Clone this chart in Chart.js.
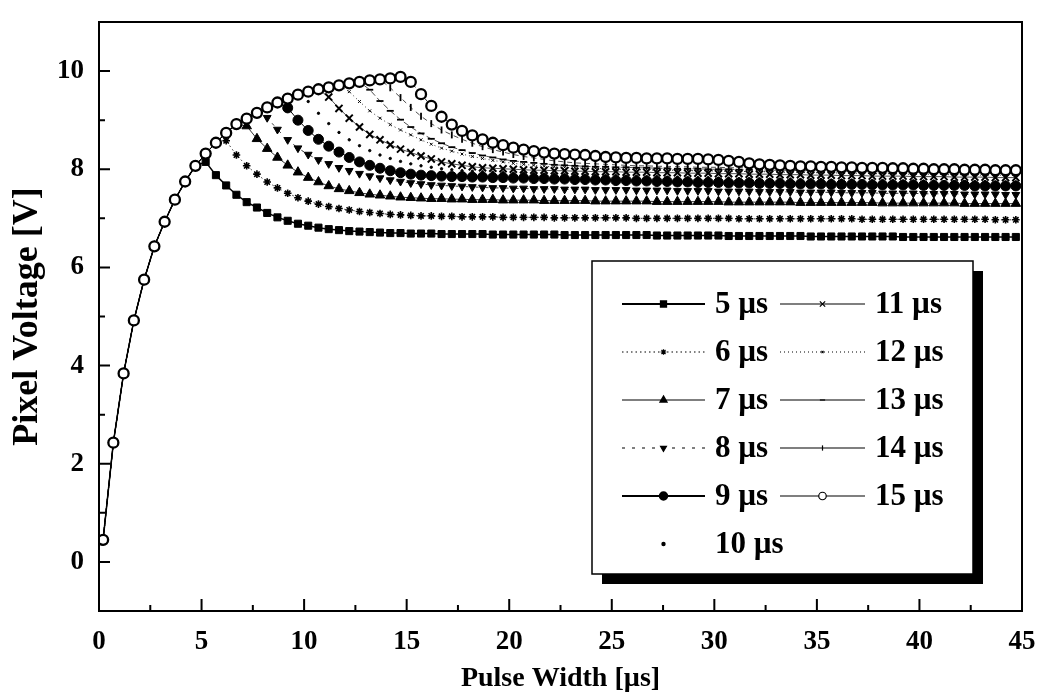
<!DOCTYPE html>
<html>
<head>
<meta charset="utf-8">
<title>Pixel Voltage vs Pulse Width</title>
<script src="https://cdn.jsdelivr.net/npm/chart.js@4.4.1/dist/chart.umd.min.js"></script>
<style>
  html, body { margin: 0; padding: 0; background: #fff; }
  #chart { display: block; }
</style>
</head>
<body>
<canvas id="chart" width="1048" height="696"></canvas>
<script>
// --------------------- DATA ------------------------
// sample times [µs]
const t = [
  0.2, 0.7, 1.2, 1.7, 2.2, 2.7, 3.2, 3.7, 4.2, 4.7,
  5.2, 5.7, 6.2, 6.7, 7.2, 7.7, 8.2, 8.7, 9.2, 9.7,
  10.2, 10.7, 11.2, 11.7, 12.2, 12.7, 13.2, 13.7, 14.2, 14.7,
  15.2, 15.7, 16.2, 16.7, 17.2, 17.7, 18.2, 18.7, 19.2, 19.7,
  20.2, 20.7, 21.2, 21.7, 22.2, 22.7, 23.2, 23.7, 24.2, 24.7,
  25.2, 25.7, 26.2, 26.7, 27.2, 27.7, 28.2, 28.7, 29.2, 29.7,
  30.2, 30.7, 31.2, 31.7, 32.2, 32.7, 33.2, 33.7, 34.2, 34.7,
  35.2, 35.7, 36.2, 36.7, 37.2, 37.7, 38.2, 38.7, 39.2, 39.7,
  40.2, 40.7, 41.2, 41.7, 42.2, 42.7, 43.2, 43.7, 44.2, 44.7
];

// common charging curve while the pulse is on [V]
const rise = [
  0.45, 2.43, 3.84, 4.92, 5.75, 6.43, 6.93, 7.38, 7.75, 8.07,
  8.32, 8.54, 8.74, 8.92, 9.03, 9.15, 9.26, 9.36, 9.44, 9.52,
  9.58, 9.63, 9.67, 9.71, 9.75, 9.78, 9.81, 9.83, 9.85, 9.88
];

// voltage after the pulse ends, one list per pulse width (last samples of t)
const after5 = [
  8.15, 7.88, 7.67, 7.48, 7.33, 7.22, 7.11, 7.02, 6.95, 6.89,
  6.85, 6.81, 6.78, 6.76, 6.74, 6.73, 6.72, 6.71, 6.70, 6.70,
  6.69, 6.69, 6.69, 6.68, 6.68, 6.68, 6.68, 6.68, 6.67, 6.67,
  6.67, 6.67, 6.67, 6.67, 6.67, 6.66, 6.66, 6.66, 6.66, 6.66,
  6.66, 6.66, 6.66, 6.66, 6.65, 6.65, 6.65, 6.65, 6.65, 6.65,
  6.65, 6.64, 6.64, 6.64, 6.64, 6.64, 6.64, 6.64, 6.64, 6.63,
  6.63, 6.63, 6.63, 6.63, 6.63, 6.63, 6.63, 6.63, 6.62, 6.62,
  6.62, 6.62, 6.62, 6.62, 6.62, 6.62, 6.62, 6.62, 6.62, 6.62
];
const after6 = [
  8.58, 8.29, 8.07, 7.90, 7.74, 7.62, 7.51, 7.42, 7.35, 7.29,
  7.24, 7.20, 7.17, 7.14, 7.12, 7.10, 7.08, 7.07,
  7.06, 7.05, 7.05, 7.04, 7.04, 7.03, 7.03, 7.03, 7.03, 7.02,
  7.02, 7.02, 7.02, 7.02, 7.01, 7.01, 7.01, 7.01, 7.01, 7.01,
  7.01, 7.01, 7.00, 7.00, 7.00, 7.00, 7.00, 7.00, 7.00, 7.00,
  7.00, 7.00, 6.99, 6.99, 6.99, 6.99, 6.99, 6.99, 6.99, 6.99,
  6.99, 6.99, 6.99, 6.99, 6.98, 6.98, 6.98, 6.98, 6.98, 6.98,
  6.98, 6.98, 6.98, 6.98, 6.98, 6.98, 6.98, 6.97, 6.97, 6.97
];
const after7 = [
  8.88, 8.62, 8.42, 8.24, 8.08, 7.94, 7.83, 7.74, 7.66, 7.60,
  7.56, 7.52, 7.49, 7.47, 7.45, 7.43,
  7.42, 7.41, 7.40, 7.40, 7.39, 7.39, 7.38, 7.38, 7.38, 7.37,
  7.37, 7.37, 7.37, 7.36, 7.36, 7.36, 7.36, 7.36, 7.35, 7.35,
  7.35, 7.35, 7.35, 7.35, 7.34, 7.34, 7.34, 7.34, 7.34, 7.34,
  7.34, 7.33, 7.33, 7.33, 7.33, 7.33, 7.33, 7.33, 7.32, 7.32,
  7.32, 7.32, 7.32, 7.32, 7.32, 7.32, 7.31, 7.31, 7.31, 7.31,
  7.31, 7.31, 7.31, 7.31, 7.30, 7.30, 7.30, 7.30, 7.30, 7.30
];
const after8 = [
  9.05, 8.81, 8.60, 8.43, 8.30, 8.19, 8.11, 8.03, 7.97, 7.91,
  7.86, 7.82, 7.78, 7.75,
  7.72, 7.70, 7.68, 7.67, 7.66, 7.65, 7.64, 7.63, 7.62, 7.62,
  7.61, 7.61, 7.60, 7.60, 7.60, 7.59, 7.59, 7.59, 7.58, 7.58,
  7.58, 7.58, 7.57, 7.57, 7.57, 7.57, 7.56, 7.56, 7.56, 7.56,
  7.55, 7.55, 7.55, 7.55, 7.54, 7.54, 7.54, 7.54, 7.53, 7.53,
  7.53, 7.53, 7.52, 7.52, 7.52, 7.52, 7.51, 7.51, 7.51, 7.51,
  7.50, 7.50, 7.50, 7.50, 7.49, 7.49, 7.49, 7.49, 7.48, 7.48
];
const after9 = [
  9.25, 9.00, 8.79, 8.61, 8.47, 8.35, 8.24, 8.15, 8.08, 8.02,
  7.97, 7.93,
  7.90, 7.88, 7.87, 7.86, 7.85, 7.85, 7.84, 7.84, 7.83, 7.83,
  7.82, 7.82, 7.81, 7.81, 7.80, 7.80, 7.79, 7.79, 7.78, 7.78,
  7.77, 7.77, 7.76, 7.76, 7.75, 7.75, 7.74, 7.74, 7.73, 7.73,
  7.73, 7.72, 7.72, 7.72, 7.71, 7.71, 7.71, 7.70, 7.70, 7.70,
  7.70, 7.69, 7.69, 7.69, 7.69, 7.68, 7.68, 7.68, 7.68, 7.68,
  7.67, 7.67, 7.67, 7.67, 7.67, 7.66, 7.66, 7.66, 7.66, 7.66
];
const after10 = [
  9.38, 9.14, 8.93, 8.75, 8.60, 8.48, 8.38, 8.29, 8.22, 8.16,
  8.11, 8.07, 8.04, 8.01, 7.99, 7.97, 7.96, 7.95, 7.94, 7.93,
  7.92, 7.92, 7.91, 7.90, 7.90, 7.89, 7.89, 7.88, 7.88, 7.87,
  7.87, 7.86, 7.86, 7.85, 7.85, 7.84, 7.84, 7.83, 7.83, 7.83,
  7.82, 7.82, 7.81, 7.81, 7.81, 7.80, 7.80, 7.80, 7.79, 7.79,
  7.79, 7.78, 7.78, 7.78, 7.77, 7.77, 7.77, 7.77, 7.76, 7.76,
  7.76, 7.76, 7.75, 7.75, 7.75, 7.75, 7.75, 7.74, 7.74, 7.74
];
const after11 = [
  9.47, 9.24, 9.04, 8.86, 8.71, 8.60, 8.50, 8.41,
  8.34, 8.27, 8.21, 8.15, 8.11, 8.08, 8.05, 8.03, 8.02, 8.01,
  8.00, 7.99, 7.98, 7.98, 7.97, 7.97, 7.96, 7.96, 7.95, 7.95,
  7.95, 7.94, 7.94, 7.94, 7.93, 7.93, 7.93, 7.92, 7.92, 7.92,
  7.91, 7.91, 7.91, 7.90, 7.90, 7.90, 7.89, 7.89, 7.89, 7.88,
  7.88, 7.88, 7.87, 7.87, 7.87, 7.86, 7.86, 7.86, 7.86, 7.85,
  7.85, 7.85, 7.85, 7.84, 7.84, 7.84, 7.84, 7.83, 7.83, 7.83
];
const after12 = [
  9.58, 9.38, 9.19, 9.04, 8.91, 8.80,
  8.70, 8.60, 8.51, 8.43, 8.37, 8.31, 8.26, 8.22, 8.18, 8.15,
  8.12, 8.10, 8.08, 8.06, 8.05, 8.04, 8.03, 8.02, 8.02, 8.01,
  8.00, 8.00, 7.99, 7.99, 7.98, 7.98, 7.98, 7.97, 7.97, 7.97,
  7.96, 7.96, 7.96, 7.95, 7.95, 7.95, 7.94, 7.94, 7.94, 7.93,
  7.93, 7.93, 7.92, 7.92, 7.92, 7.91, 7.91, 7.91, 7.90, 7.90,
  7.90, 7.90, 7.89, 7.89, 7.89, 7.88, 7.88, 7.88, 7.88, 7.87
];
const after13 = [
  9.62, 9.39, 9.19, 9.01,
  8.86, 8.73, 8.62, 8.53, 8.45, 8.39, 8.33, 8.28, 8.24, 8.20,
  8.17, 8.15, 8.13, 8.11, 8.09, 8.08, 8.07, 8.06, 8.05, 8.05,
  8.04, 8.04, 8.03, 8.03, 8.02, 8.02, 8.01, 8.01, 8.01, 8.00,
  8.00, 8.00, 7.99, 7.99, 7.99, 7.98, 7.98, 7.98, 7.97, 7.97,
  7.97, 7.96, 7.96, 7.96, 7.95, 7.95, 7.95, 7.94, 7.94, 7.94,
  7.93, 7.93, 7.93, 7.93, 7.92, 7.92, 7.92, 7.92, 7.91, 7.91
];
const after14 = [
  9.66, 9.46,
  9.26, 9.08, 8.93, 8.80, 8.70, 8.61, 8.53, 8.46, 8.40, 8.35,
  8.30, 8.26, 8.23, 8.20, 8.17, 8.15, 8.13, 8.12, 8.11, 8.10,
  8.09, 8.08, 8.07, 8.07, 8.06, 8.06, 8.05, 8.05, 8.04, 8.04,
  8.04, 8.03, 8.03, 8.03, 8.02, 8.02, 8.02, 8.01, 8.01, 8.01,
  8.00, 8.00, 8.00, 7.99, 7.99, 7.99, 7.98, 7.98, 7.98, 7.97,
  7.97, 7.97, 7.97, 7.96, 7.96, 7.96, 7.96, 7.95, 7.95, 7.95
];
const after15 = [
  9.78, 9.53, 9.29, 9.07, 8.91, 8.78, 8.69, 8.61, 8.54, 8.49,
  8.44, 8.40, 8.37, 8.34, 8.32, 8.31, 8.30, 8.29, 8.27, 8.25,
  8.24, 8.23, 8.23, 8.22, 8.22, 8.22, 8.21, 8.21, 8.21, 8.20,
  8.19, 8.17, 8.15, 8.12, 8.10, 8.09, 8.08, 8.07, 8.06, 8.06,
  8.05, 8.05, 8.04, 8.04, 8.03, 8.03, 8.03, 8.02, 8.02, 8.01,
  8.01, 8.00, 8.00, 8.00, 7.99, 7.99, 7.99, 7.98, 7.98, 7.98
];

const labels = ['5 µs', '6 µs', '7 µs', '8 µs', '9 µs', '10 µs', '11 µs', '12 µs', '13 µs', '14 µs', '15 µs'];
const afterLists = [after5, after6, after7, after8, after9, after10, after11, after12, after13, after14, after15];

// --------------------- STYLES ------------------------
const serif = "'Liberation Serif', 'Times New Roman', serif";
const styles = [
  { pointStyle: 'rect', pointRadius: 5, borderWidth: 1.5, borderDash: [] },
  { pointStyle: 'star', pointRadius: 3.8, borderWidth: 0.8, borderDash: [1.5, 3], pointBorderWidth: 1.6 },
  { pointStyle: 'triangle', pointRadius: 5.5, borderWidth: 0.8, borderDash: [] },
  { pointStyle: 'triangle', pointRotation: 180, pointRadius: 4.5, borderWidth: 0.8, borderDash: [3, 7] },
  { pointStyle: 'circle', pointRadius: 5, borderWidth: 1, borderDash: [] },
  { pointStyle: 'circle', pointRadius: 1.2, borderWidth: 0, showLine: false },
  { pointStyle: 'crossRot', pointRadius: 5, borderWidth: 0.7, borderDash: [], pointBorderWidth: 2 },
  { pointStyle: 'crossRot', pointRadius: 2, borderWidth: 0.8, borderDash: [1, 3] },
  { pointStyle: 'line', pointRadius: 3.5, borderWidth: 0.7, borderDash: [6, 3], pointBorderWidth: 1.8 },
  { pointStyle: 'line', pointRotation: 90, pointRadius: 3.5, borderWidth: 0.7, borderDash: [5, 4], pointBorderWidth: 1.8 },
  { pointStyle: 'circle', pointRadius: 5, borderWidth: 0.8, borderDash: [3, 3], pointBorderWidth: 2.3, pointBackgroundColor: '#fff' }
];

function makeSeries(i) {
  const after = afterLists[i];
  const vals = rise.slice(0, t.length - after.length).concat(after);
  return Object.assign({
    label: labels[i],
    data: t.map((x, k) => ({ x: x, y: vals[k] })),
    borderColor: '#000',
    backgroundColor: '#000',
    pointBackgroundColor: '#000',
    pointBorderColor: '#000',
    pointBorderWidth: 1,
    tension: 0,
    fill: false,
    order: 10 - i
  }, styles[i]);
}

// --------------------- FRAME + INWARD TICKS ------------------------
const frameTicks = {
  id: 'frameTicks',
  afterDatasetsDraw(chart) {
    const { ctx, chartArea: a, scales: { x, y } } = chart;
    ctx.save();
    ctx.strokeStyle = '#000';
    ctx.lineWidth = 2;
    ctx.setLineDash([]);
    ctx.strokeRect(a.left, a.top, a.right - a.left, a.bottom - a.top);
    ctx.beginPath();
    x.ticks.forEach(tk => {
      const px = x.getPixelForValue(tk.value);
      const len = tk.value % 5 === 0 ? 12 : 6;
      ctx.moveTo(px, a.bottom);
      ctx.lineTo(px, a.bottom - len);
    });
    y.ticks.forEach(tk => {
      const py = y.getPixelForValue(tk.value);
      const len = tk.value % 2 === 0 ? 11 : 6;
      ctx.moveTo(a.left, py);
      ctx.lineTo(a.left + len, py);
    });
    ctx.stroke();
    ctx.restore();
  }
};

// --------------------- BOXED LEGEND ------------------------
const boxLegend = {
  id: 'boxLegend',
  afterDraw(chart) {
    const ctx = chart.ctx;
    const box = { l: 592, t: 261, r: 973, b: 574 };
    ctx.save();
    // drop shadow
    ctx.fillStyle = '#000';
    ctx.fillRect(box.l + 10, box.t + 10, box.r - box.l, box.b - box.t);
    ctx.fillStyle = '#fff';
    ctx.fillRect(box.l, box.t, box.r - box.l, box.b - box.t);
    ctx.strokeStyle = '#000';
    ctx.lineWidth = 1.5;
    ctx.strokeRect(box.l, box.t, box.r - box.l, box.b - box.t);

    const cols = [{ x0: 622, x1: 705, tx: 715 }, { x0: 780, x1: 865, tx: 875 }];
    chart.data.datasets.forEach((ds, i) => {
      const c = cols[i < 6 ? 0 : 1];
      const row = i < 6 ? i : i - 6;
      const yy = 304 + row * 48;
      if (ds.showLine !== false) {
        ctx.beginPath();
        ctx.setLineDash(i >= 8 ? [] : (ds.borderDash || []));
        ctx.lineWidth = i === 0 || i === 4 ? 2 : 1.2;
        ctx.strokeStyle = '#000';
        ctx.moveTo(c.x0, yy);
        ctx.lineTo(c.x1, yy);
        ctx.stroke();
      }
      ctx.setLineDash([]);
      ctx.fillStyle = ds.pointBackgroundColor;
      ctx.strokeStyle = '#000';
      Chart.helpers.drawPoint(ctx, {
        pointStyle: ds.pointStyle,
        rotation: ds.pointRotation || 0,
        radius: Math.max(ds.pointRadius * 0.75, 1.2),
        borderWidth: Math.min(ds.pointBorderWidth, 1.5)
      }, (c.x0 + c.x1) / 2, yy);
      ctx.fillStyle = '#000';
      ctx.font = 'bold 31px ' + serif;
      ctx.textBaseline = 'middle';
      ctx.textAlign = 'left';
      ctx.fillText(ds.label, c.tx, yy + 1);
    });
    ctx.restore();
  }
};

// --------------------- CHART ------------------------
const tickFont = { family: serif, size: 27, weight: 'bold' };

new Chart(document.getElementById('chart').getContext('2d'), {
  type: 'line',
  data: { datasets: labels.map((l, i) => makeSeries(i)) },
  options: {
    responsive: false,
    animation: false,
    layout: { padding: { top: 22, right: 26, left: 0, bottom: 0 } },
    plugins: { legend: { display: false }, tooltip: { enabled: false } },
    scales: {
      x: {
        type: 'linear',
        min: 0,
        max: 45,
        grid: { display: false, drawTicks: false },
        border: { display: false },
        ticks: {
          stepSize: 2.5,
          autoSkip: false,
          maxRotation: 0,
          padding: 15,
          color: '#000',
          font: tickFont,
          callback: v => (v % 5 === 0 ? v : '')
        },
        title: {
          display: true,
          text: 'Pulse Width [µs]',
          color: '#000',
          font: { family: serif, size: 28, weight: 'bold' },
          padding: { top: 0, bottom: 0 }
        },
        afterFit: s => { s.height = 85; s.paddingLeft = 0; s.paddingRight = 0; }
      },
      y: {
        min: -1,
        max: 11,
        grid: { display: false, drawTicks: false },
        border: { display: false },
        ticks: {
          stepSize: 1,
          autoSkip: false,
          padding: 15,
          color: '#000',
          font: tickFont,
          callback: v => (v % 2 === 0 && v >= 0 && v <= 10 ? v : '')
        },
        title: {
          display: true,
          text: 'Pixel Voltage [V]',
          color: '#000',
          font: { family: serif, size: 36, weight: 'bold' },
          padding: { top: 6, bottom: 0 }
        },
        afterFit: s => { s.width = 99; s.paddingTop = 0; s.paddingBottom = 0; }
      }
    }
  },
  plugins: [frameTicks, boxLegend]
});
</script>
</body>
</html>
